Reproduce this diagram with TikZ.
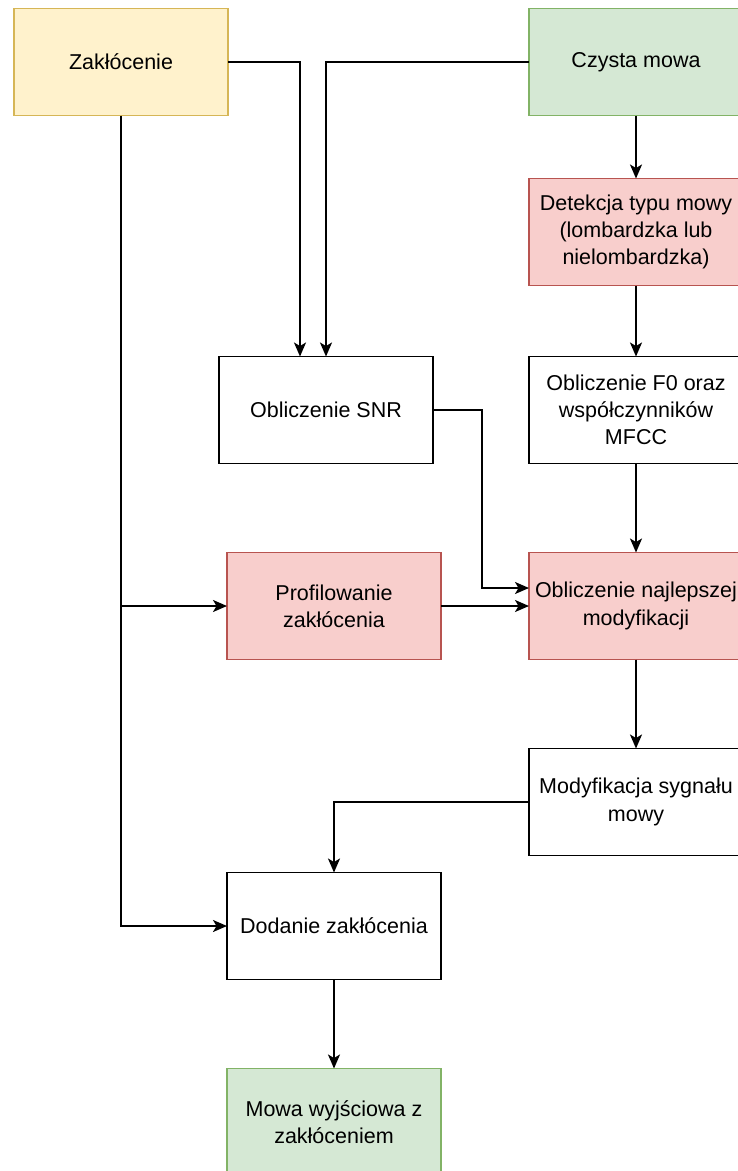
\documentclass[tikz,border=0pt]{standalone}
\usepackage{fontspec}
\setmainfont{Liberation Sans}
\usetikzlibrary{arrows.meta}
\definecolor{yfill}{HTML}{FFF2CC}
\definecolor{ydraw}{HTML}{D6B656}
\definecolor{gfill}{HTML}{D5E8D4}
\definecolor{gdraw}{HTML}{82B366}
\definecolor{rfill}{HTML}{F8CECC}
\definecolor{rdraw}{HTML}{B85450}
\begin{document}
\begin{tikzpicture}[x=1pt,y=-1pt,
  box/.style={draw=black, fill=white, line width=1.4pt, minimum width=214pt,
    minimum height=107pt, align=center, inner sep=0pt, outer sep=0pt,
    font=\fontsize{21.5}{27.2}\selectfont},
  yellowbox/.style={fill=yfill, draw=ydraw},
  greenbox/.style={fill=gfill, draw=gdraw},
  redbox/.style={fill=rfill, draw=rdraw},
  link/.style={line width=1.8pt, -{Stealth[length=14pt,width=12pt,inset=3.5pt]}}]
\useasboundingbox (0,0) rectangle (737,1171);
\fill[white] (0,0) rectangle (737,1171);

% process boxes
\node[box, yellowbox] (zak) at (121,62) {Zakłócenie};
\node[box, greenbox] (czy) at (636,62) {Czysta mowa};
\node[box, redbox] (det) at (636,232) {Detekcja typu mowy\\(lombardzka lub\\nielombardzka)};
\node[box] (snr) at (326,410) {Obliczenie SNR};
\node[box] (f0) at (636,410) {Obliczenie F0 oraz\\współczynników\\MFCC};
\node[box, redbox] (prof) at (334,606) {Profilowanie\\zakłócenia};
\node[box, redbox] (best) at (636,606) {Obliczenie najlepszej\\modyfikacji};
\node[box] (mod) at (636,802) {Modyfikacja sygnału\\mowy};
\node[box] (dod) at (334,926) {Dodanie zakłócenia};
\node[box, greenbox] (out) at (334,1122) {Mowa wyjściowa z\\zakłóceniem};

% connectors
\draw[link] (zak.east) -| ([xshift=-26pt]snr.north);
\draw[link] (czy.west) -| (snr.north);
\draw[link] (czy.south) -- (det.north);
\draw[link] (det.south) -- (f0.north);
\draw[link] (f0.south) -- (best.north);
\draw[link] (snr.east) -- ++(49,0) |- ([yshift=18pt]best.west);
\draw[link] (prof.east) -- (best.west);
\draw[link] (zak.south) |- (dod.west);
\coordinate (tap) at (zak.south |- prof.west);
\draw[link] (tap) -- (prof.west);
\draw[link] (best.south) -- (mod.north);
\draw[link] (mod.west) -| (dod.north);
\draw[link] (dod.south) -- (out.north);
\end{tikzpicture}
\end{document}
